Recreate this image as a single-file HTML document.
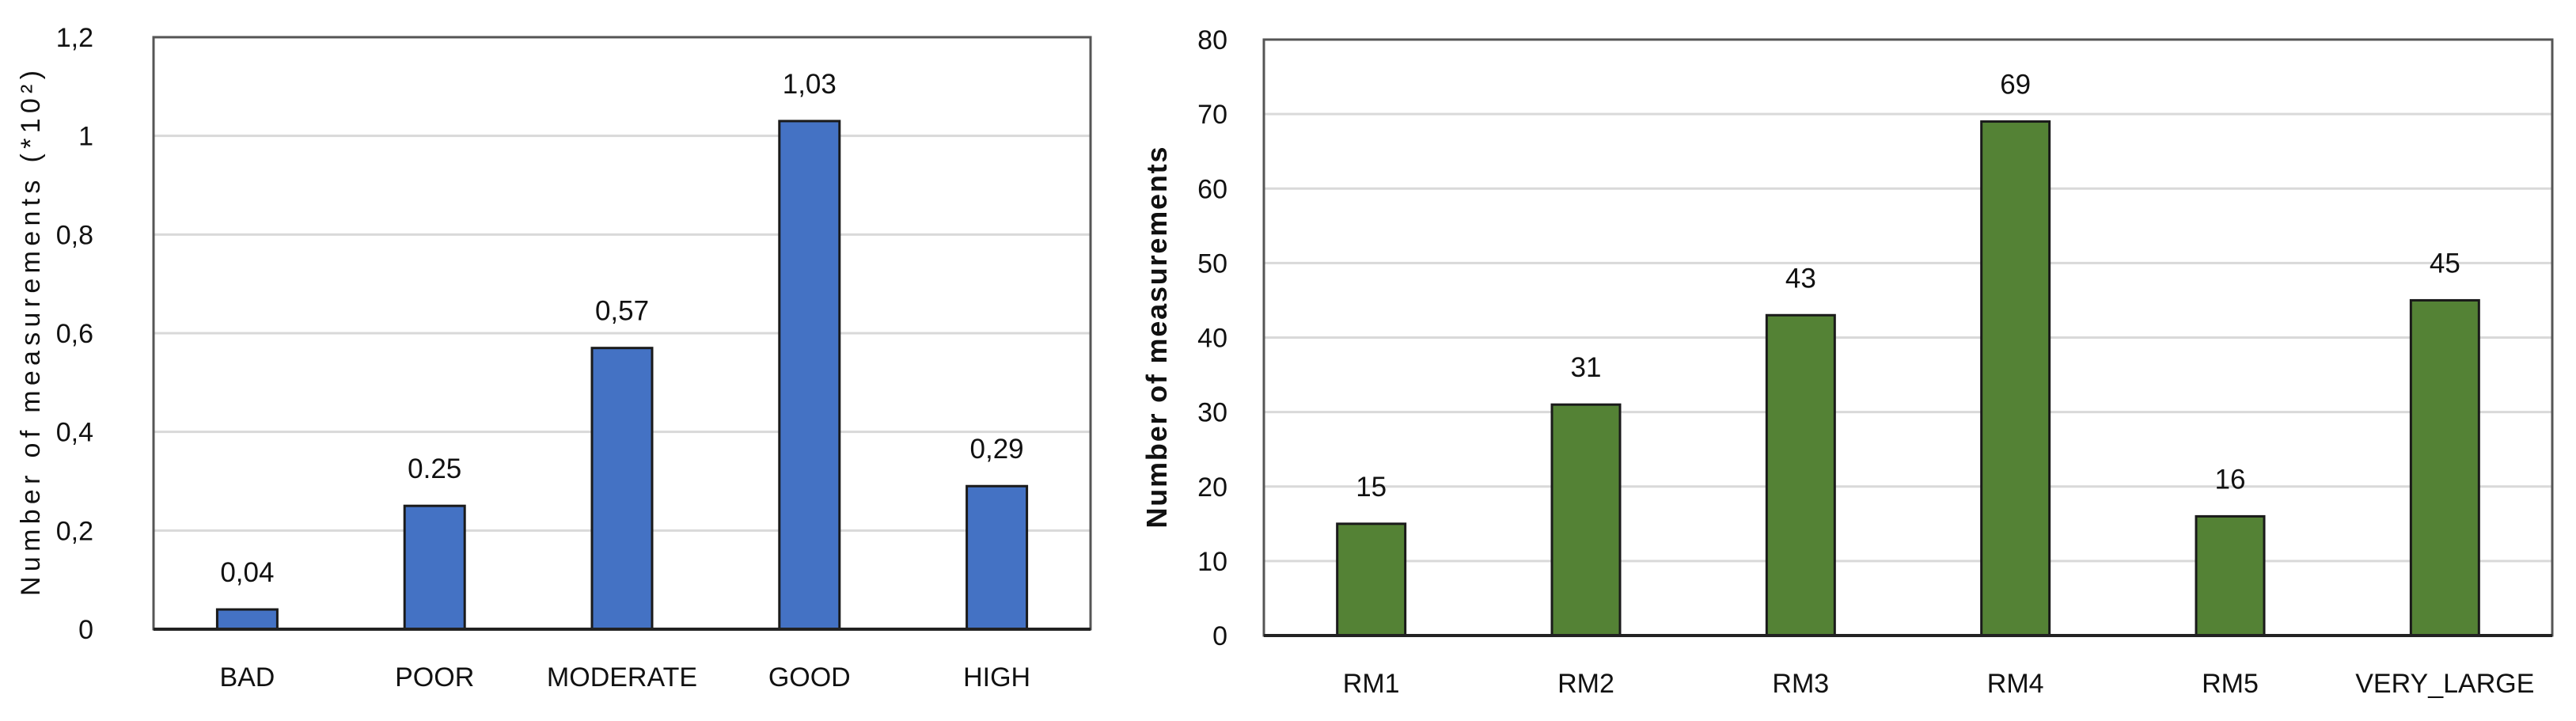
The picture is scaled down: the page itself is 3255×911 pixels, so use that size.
<!DOCTYPE html>
<html><head><meta charset="utf-8"><style>
html,body{margin:0;padding:0;background:#fff;}
svg{display:block;font-family:"Liberation Sans",sans-serif;}
</style></head><body>
<svg id="c" width="3255" height="911" viewBox="0 0 3255 911" xmlns="http://www.w3.org/2000/svg">
<rect x="0" y="0" width="3255" height="911" fill="#fff"/>
<g id="left"></g>
<g id="right"></g>
</svg>
<script>
const leftCats = ["BAD","POOR","MODERATE","GOOD","HIGH"];
const leftVals = [0.04,0.25,0.57,1.03,0.29];
const leftLabels = ["0,04","0.25","0,57","1,03","0,29"];
const leftTicks = [0,0.2,0.4,0.6,0.8,1,1.2];
const leftTickLabels = ["0","0,2","0,4","0,6","0,8","1","1,2"];
const rightCats = ["RM1","RM2","RM3","RM4","RM5","VERY_LARGE"];
const rightVals = [15,31,43,69,16,45];
const rightTicks = [0,10,20,30,40,50,60,70,80];
const rightTickLabels = ["0","10","20","30","40","50","60","70","80"];

const NS = "http://www.w3.org/2000/svg";
function mk(parent, tag, attrs, text){
  const e = document.createElementNS(NS, tag);
  for (const k in attrs) e.setAttribute(k, attrs[k]);
  if (text !== undefined) e.textContent = text;
  parent.appendChild(e);
  return e;
}

function drawChart(g, cfg){
  const {x0,x1,y0,y1,max,cats,vals,labels,ticks,tickLabels,color,barW,tickRight,title,titleX,titleLen,titleBold,prefix} = cfg;
  const yS = v => y1 - (v/max)*(y1-y0);
  const band = (x1-x0)/cats.length;
  const xC = i => x0 + band*(i+0.5);
  ticks.forEach((t,i)=>{
    if (t>0 && t<max){
      const gl = mk(g,'line',{x1:x0,x2:x1,y1:yS(t),y2:yS(t),stroke:'#d9d9d9','stroke-width':3});
      
      
    }
    const tl = mk(g,'text',{x:tickRight,y:yS(t)+12,'text-anchor':'end','font-size':34,fill:'#111'},tickLabels[i]);
    
    
  });
  const box = mk(g,'rect',{x:x0,y:y0,width:x1-x0,height:y1-y0,fill:'none',stroke:'#555','stroke-width':3});
  
  
  cats.forEach((c,i)=>{
    const top = yS(vals[i]);
    const b = mk(g,'rect',{x:xC(i)-barW/2,y:top,width:barW,height:y1-top,fill:color,stroke:'#1a1a1a','stroke-width':3});
    
    
    const vl = mk(g,'text',{x:xC(i),y:top-35,'text-anchor':'middle','font-size':35,fill:'#111'},labels[i]);
    
    
    const cl = mk(g,'text',{x:xC(i),y:y1+72,'text-anchor':'middle','font-size':34,fill:'#111'},c);
    
    
  });
  const bl = mk(g,'line',{x1:x0,x2:x1,y1:y1,y2:y1,stroke:'#222','stroke-width':4});
  
  
  const cy = (y0+y1)/2;
  const tt = mk(g,'text',{x:0,y:0,'text-anchor':'middle','font-size':titleBold?36:34,'font-weight':titleBold?'bold':'normal',fill:'#111',
    textLength:titleLen,lengthAdjust:'spacing',transform:`translate(${titleX},${cy}) rotate(-90)`},title);
  
  
}

drawChart(document.getElementById('left'),{
  x0:194,x1:1378,y0:47,y1:795,max:1.2,cats:leftCats,vals:leftVals,labels:leftLabels,
  ticks:leftTicks,tickLabels:leftTickLabels,color:'#4472C4',barW:76,tickRight:118,
  title:'Number of measurements (*10²)',titleX:50,titleLen:664,titleBold:false,prefix:'left'
});
drawChart(document.getElementById('right'),{
  x0:1597,x1:3225,y0:50,y1:803,max:80,cats:rightCats,vals:rightVals,labels:rightVals.map(String),
  ticks:rightTicks,tickLabels:rightTickLabels,color:'#548235',barW:86,tickRight:1551,
  title:'Number of measurements',titleX:1474,titleLen:482,titleBold:true,prefix:'right'
});
</script>
</body></html>
